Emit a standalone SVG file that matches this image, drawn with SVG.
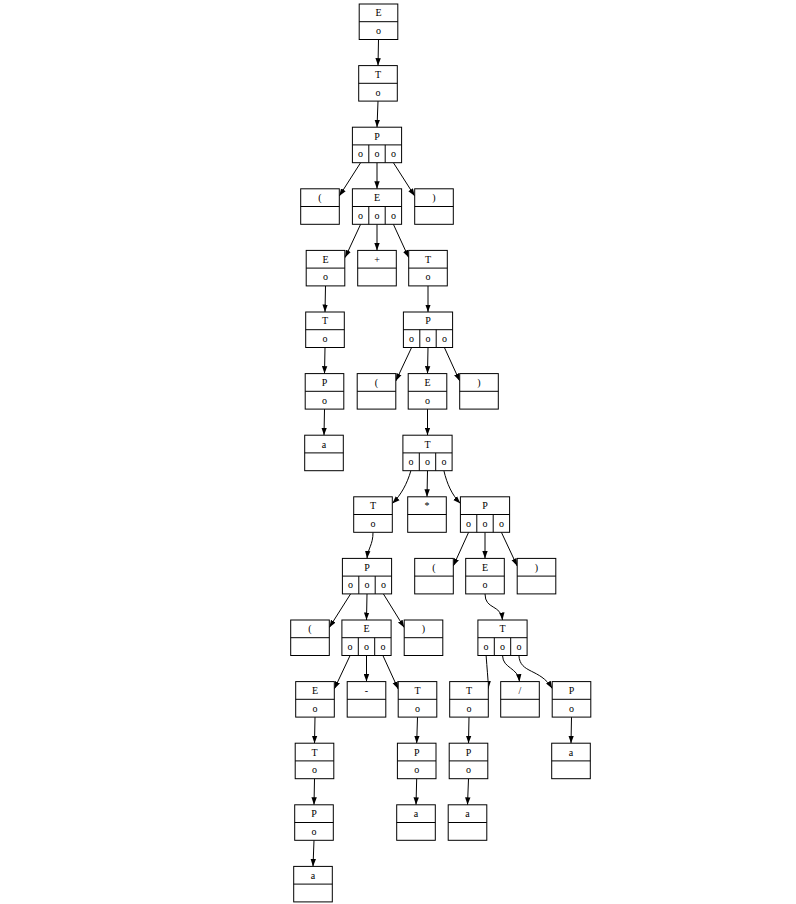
<svg xmlns="http://www.w3.org/2000/svg" width="796" height="904" viewBox="0 0 796 904">
<style>
.b{fill:#fff;stroke:#000;stroke-width:1}
.d{stroke:#000;stroke-width:1}
.t{font-family:"Liberation Serif","Times New Roman",serif;font-size:10px;text-anchor:middle;fill:#000}
.e{fill:none;stroke:#000;stroke-width:1;marker-end:url(#ah)}
</style>
<defs>
<marker id="ah" markerUnits="userSpaceOnUse" markerWidth="8" markerHeight="6" refX="7.5" refY="3" orient="auto"><path d="M0,0.3 L7.5,3 L0,5.7z" fill="#000"/></marker>
</defs>
<rect width="796" height="904" fill="#fff"/>
<g id="edges">
<path class="e" d="M378.5,39.5 L378,65.6"/>
<path class="e" d="M378,101.1 L377,127.2"/>
<path class="e" d="M360.6,162.7 L339.3,196"/>
<path class="e" d="M377,162.7 L377,188.8"/>
<path class="e" d="M393.4,162.7 L414.7,196"/>
<path class="e" d="M360.6,224.3 L345.1,257.6"/>
<path class="e" d="M377,224.3 L377,250.4"/>
<path class="e" d="M393.4,224.3 L408.7,257.6"/>
<path class="e" d="M325.5,285.9 L325,312"/>
<path class="e" d="M428,285.9 L428,312"/>
<path class="e" d="M325,347.5 L324.5,373.6"/>
<path class="e" d="M411.6,347.5 L395.8,381"/>
<path class="e" d="M428,347.5 L427.5,373.6"/>
<path class="e" d="M444.4,347.5 L459.7,381"/>
<path class="e" d="M324.5,409.1 L324,435.2"/>
<path class="e" d="M427.5,409.1 L427.5,435.2"/>
<path class="e" d="M410.9,470.7 C407,484 401,495 392.3,503.5"/>
<path class="e" d="M427.5,470.7 L427,496.8"/>
<path class="e" d="M443.9,470.7 C447,484 452,495 460.4,503.5"/>
<path class="e" d="M373,532.3 C373,545 368,548 367,558.4"/>
<path class="e" d="M468.6,532.3 L453.3,566"/>
<path class="e" d="M485,532.3 L485,558.4"/>
<path class="e" d="M501.4,532.3 L517.2,566"/>
<path class="e" d="M350.6,593.9 L329.3,627.5"/>
<path class="e" d="M367,593.9 L366.5,620"/>
<path class="e" d="M383.4,593.9 L404.2,627.5"/>
<path class="e" d="M485,593.9 C485,610 501,604 502.5,620"/>
<path class="e" d="M350.1,655.5 L334.3,689"/>
<path class="e" d="M366.5,655.5 L366.5,681.6"/>
<path class="e" d="M382.9,655.5 L398.2,689"/>
<path class="e" d="M486.1,655.5 C487,668 488,678 488.5,688.5"/>
<path class="e" d="M502.5,655.5 C503,669 518,667 519.5,681.6"/>
<path class="e" d="M518.9,655.5 C520,674 540,668 552.2,688.5"/>
<path class="e" d="M315,717.1 L314.5,743.2"/>
<path class="e" d="M417.5,717.1 L416.7,743.2"/>
<path class="e" d="M469,717.1 L468.5,743.2"/>
<path class="e" d="M571.5,717.1 L571,743.2"/>
<path class="e" d="M314.5,778.7 L314,804.8"/>
<path class="e" d="M416.7,778.7 L416,804.8"/>
<path class="e" d="M468.5,778.7 L467.5,804.8"/>
<path class="e" d="M314,840.3 L313,866.4"/>
</g>
<g id="n0"><rect class="b" x="359.2" y="4" width="38.6" height="35.5"/><line class="d" x1="359.2" y1="21.7" x2="397.8" y2="21.7"/><text class="t" x="378.5" y="16.3">E</text><text class="t" x="378.5" y="34">o</text></g>
<g id="n1"><rect class="b" x="358.7" y="65.6" width="38.6" height="35.5"/><line class="d" x1="358.7" y1="83.3" x2="397.3" y2="83.3"/><text class="t" x="378" y="77.9">T</text><text class="t" x="378" y="95.6">o</text></g>
<g id="n2"><rect class="b" x="352.4" y="127.2" width="49.2" height="35.5"/><line class="d" x1="352.4" y1="144.9" x2="401.6" y2="144.9"/><line class="d" x1="368.8" y1="144.9" x2="368.8" y2="162.7"/><line class="d" x1="385.2" y1="144.9" x2="385.2" y2="162.7"/><text class="t" x="377" y="139.5">P</text><text class="t" x="360.6" y="157.2">o</text><text class="t" x="377" y="157.2">o</text><text class="t" x="393.4" y="157.2">o</text></g>
<g id="n3"><rect class="b" x="300.7" y="188.8" width="38.6" height="35.5"/><line class="d" x1="300.7" y1="206.5" x2="339.3" y2="206.5"/><text class="t" x="320" y="201.1">(</text></g>
<g id="n4"><rect class="b" x="352.4" y="188.8" width="49.2" height="35.5"/><line class="d" x1="352.4" y1="206.5" x2="401.6" y2="206.5"/><line class="d" x1="368.8" y1="206.5" x2="368.8" y2="224.3"/><line class="d" x1="385.2" y1="206.5" x2="385.2" y2="224.3"/><text class="t" x="377" y="201.1">E</text><text class="t" x="360.6" y="218.8">o</text><text class="t" x="377" y="218.8">o</text><text class="t" x="393.4" y="218.8">o</text></g>
<g id="n5"><rect class="b" x="414.7" y="188.8" width="38.6" height="35.5"/><line class="d" x1="414.7" y1="206.5" x2="453.3" y2="206.5"/><text class="t" x="434" y="201.1">)</text></g>
<g id="n6"><rect class="b" x="306.2" y="250.4" width="38.6" height="35.5"/><line class="d" x1="306.2" y1="268.1" x2="344.8" y2="268.1"/><text class="t" x="325.5" y="262.7">E</text><text class="t" x="325.5" y="280.4">o</text></g>
<g id="n7"><rect class="b" x="357.7" y="250.4" width="38.6" height="35.5"/><line class="d" x1="357.7" y1="268.1" x2="396.3" y2="268.1"/><text class="t" x="377" y="262.7">+</text></g>
<g id="n8"><rect class="b" x="408.7" y="250.4" width="38.6" height="35.5"/><line class="d" x1="408.7" y1="268.1" x2="447.3" y2="268.1"/><text class="t" x="428" y="262.7">T</text><text class="t" x="428" y="280.4">o</text></g>
<g id="n9"><rect class="b" x="305.7" y="312" width="38.6" height="35.5"/><line class="d" x1="305.7" y1="329.7" x2="344.3" y2="329.7"/><text class="t" x="325" y="324.3">T</text><text class="t" x="325" y="342">o</text></g>
<g id="n10"><rect class="b" x="403.4" y="312" width="49.2" height="35.5"/><line class="d" x1="403.4" y1="329.7" x2="452.6" y2="329.7"/><line class="d" x1="419.8" y1="329.7" x2="419.8" y2="347.5"/><line class="d" x1="436.2" y1="329.7" x2="436.2" y2="347.5"/><text class="t" x="428" y="324.3">P</text><text class="t" x="411.6" y="342">o</text><text class="t" x="428" y="342">o</text><text class="t" x="444.4" y="342">o</text></g>
<g id="n11"><rect class="b" x="305.2" y="373.6" width="38.6" height="35.5"/><line class="d" x1="305.2" y1="391.3" x2="343.8" y2="391.3"/><text class="t" x="324.5" y="385.9">P</text><text class="t" x="324.5" y="403.6">o</text></g>
<g id="n12"><rect class="b" x="357.2" y="373.6" width="38.6" height="35.5"/><line class="d" x1="357.2" y1="391.3" x2="395.8" y2="391.3"/><text class="t" x="376.5" y="385.9">(</text></g>
<g id="n13"><rect class="b" x="408.2" y="373.6" width="38.6" height="35.5"/><line class="d" x1="408.2" y1="391.3" x2="446.8" y2="391.3"/><text class="t" x="427.5" y="385.9">E</text><text class="t" x="427.5" y="403.6">o</text></g>
<g id="n14"><rect class="b" x="459.7" y="373.6" width="38.6" height="35.5"/><line class="d" x1="459.7" y1="391.3" x2="498.3" y2="391.3"/><text class="t" x="479" y="385.9">)</text></g>
<g id="n15"><rect class="b" x="304.7" y="435.2" width="38.6" height="35.5"/><line class="d" x1="304.7" y1="452.9" x2="343.3" y2="452.9"/><text class="t" x="324" y="447.5">a</text></g>
<g id="n16"><rect class="b" x="402.9" y="435.2" width="49.2" height="35.5"/><line class="d" x1="402.9" y1="452.9" x2="452.1" y2="452.9"/><line class="d" x1="419.3" y1="452.9" x2="419.3" y2="470.7"/><line class="d" x1="435.7" y1="452.9" x2="435.7" y2="470.7"/><text class="t" x="427.5" y="447.5">T</text><text class="t" x="410.9" y="465.2">o</text><text class="t" x="427.5" y="465.2">o</text><text class="t" x="443.9" y="465.2">o</text></g>
<g id="n17"><rect class="b" x="353.7" y="496.8" width="38.6" height="35.5"/><line class="d" x1="353.7" y1="514.5" x2="392.3" y2="514.5"/><text class="t" x="373" y="509.1">T</text><text class="t" x="373" y="526.8">o</text></g>
<g id="n18"><rect class="b" x="407.7" y="496.8" width="38.6" height="35.5"/><line class="d" x1="407.7" y1="514.5" x2="446.3" y2="514.5"/><text class="t" x="427" y="509.1">*</text></g>
<g id="n19"><rect class="b" x="460.4" y="496.8" width="49.2" height="35.5"/><line class="d" x1="460.4" y1="514.5" x2="509.6" y2="514.5"/><line class="d" x1="476.8" y1="514.5" x2="476.8" y2="532.3"/><line class="d" x1="493.2" y1="514.5" x2="493.2" y2="532.3"/><text class="t" x="485" y="509.1">P</text><text class="t" x="468.6" y="526.8">o</text><text class="t" x="485" y="526.8">o</text><text class="t" x="501.4" y="526.8">o</text></g>
<g id="n20"><rect class="b" x="342.4" y="558.4" width="49.2" height="35.5"/><line class="d" x1="342.4" y1="576.1" x2="391.6" y2="576.1"/><line class="d" x1="358.8" y1="576.1" x2="358.8" y2="593.9"/><line class="d" x1="375.2" y1="576.1" x2="375.2" y2="593.9"/><text class="t" x="367" y="570.7">P</text><text class="t" x="350.6" y="588.4">o</text><text class="t" x="367" y="588.4">o</text><text class="t" x="383.4" y="588.4">o</text></g>
<g id="n21"><rect class="b" x="414.7" y="558.4" width="38.6" height="35.5"/><line class="d" x1="414.7" y1="576.1" x2="453.3" y2="576.1"/><text class="t" x="434" y="570.7">(</text></g>
<g id="n22"><rect class="b" x="465.7" y="558.4" width="38.6" height="35.5"/><line class="d" x1="465.7" y1="576.1" x2="504.3" y2="576.1"/><text class="t" x="485" y="570.7">E</text><text class="t" x="485" y="588.4">o</text></g>
<g id="n23"><rect class="b" x="517.2" y="558.4" width="38.6" height="35.5"/><line class="d" x1="517.2" y1="576.1" x2="555.8" y2="576.1"/><text class="t" x="536.5" y="570.7">)</text></g>
<g id="n24"><rect class="b" x="290.7" y="620" width="38.6" height="35.5"/><line class="d" x1="290.7" y1="637.7" x2="329.3" y2="637.7"/><text class="t" x="310" y="632.3">(</text></g>
<g id="n25"><rect class="b" x="341.9" y="620" width="49.2" height="35.5"/><line class="d" x1="341.9" y1="637.7" x2="391.1" y2="637.7"/><line class="d" x1="358.3" y1="637.7" x2="358.3" y2="655.5"/><line class="d" x1="374.7" y1="637.7" x2="374.7" y2="655.5"/><text class="t" x="366.5" y="632.3">E</text><text class="t" x="350.1" y="650">o</text><text class="t" x="366.5" y="650">o</text><text class="t" x="382.9" y="650">o</text></g>
<g id="n26"><rect class="b" x="404.2" y="620" width="38.6" height="35.5"/><line class="d" x1="404.2" y1="637.7" x2="442.8" y2="637.7"/><text class="t" x="423.5" y="632.3">)</text></g>
<g id="n27"><rect class="b" x="477.9" y="620" width="49.2" height="35.5"/><line class="d" x1="477.9" y1="637.7" x2="527.1" y2="637.7"/><line class="d" x1="494.3" y1="637.7" x2="494.3" y2="655.5"/><line class="d" x1="510.7" y1="637.7" x2="510.7" y2="655.5"/><text class="t" x="502.5" y="632.3">T</text><text class="t" x="486.1" y="650">o</text><text class="t" x="502.5" y="650">o</text><text class="t" x="518.9" y="650">o</text></g>
<g id="n28"><rect class="b" x="295.7" y="681.6" width="38.6" height="35.5"/><line class="d" x1="295.7" y1="699.3" x2="334.3" y2="699.3"/><text class="t" x="315" y="693.9">E</text><text class="t" x="315" y="711.6">o</text></g>
<g id="n29"><rect class="b" x="347.2" y="681.6" width="38.6" height="35.5"/><line class="d" x1="347.2" y1="699.3" x2="385.8" y2="699.3"/><text class="t" x="366.5" y="693.9">-</text></g>
<g id="n30"><rect class="b" x="398.2" y="681.6" width="38.6" height="35.5"/><line class="d" x1="398.2" y1="699.3" x2="436.8" y2="699.3"/><text class="t" x="417.5" y="693.9">T</text><text class="t" x="417.5" y="711.6">o</text></g>
<g id="n31"><rect class="b" x="449.7" y="681.6" width="38.6" height="35.5"/><line class="d" x1="449.7" y1="699.3" x2="488.3" y2="699.3"/><text class="t" x="469" y="693.9">T</text><text class="t" x="469" y="711.6">o</text></g>
<g id="n32"><rect class="b" x="500.7" y="681.6" width="38.6" height="35.5"/><line class="d" x1="500.7" y1="699.3" x2="539.3" y2="699.3"/><text class="t" x="520" y="693.9">/</text></g>
<g id="n33"><rect class="b" x="552.2" y="681.6" width="38.6" height="35.5"/><line class="d" x1="552.2" y1="699.3" x2="590.8" y2="699.3"/><text class="t" x="571.5" y="693.9">P</text><text class="t" x="571.5" y="711.6">o</text></g>
<g id="n34"><rect class="b" x="295.2" y="743.2" width="38.6" height="35.5"/><line class="d" x1="295.2" y1="760.9" x2="333.8" y2="760.9"/><text class="t" x="314.5" y="755.5">T</text><text class="t" x="314.5" y="773.2">o</text></g>
<g id="n35"><rect class="b" x="397.4" y="743.2" width="38.6" height="35.5"/><line class="d" x1="397.4" y1="760.9" x2="436" y2="760.9"/><text class="t" x="416.7" y="755.5">P</text><text class="t" x="416.7" y="773.2">o</text></g>
<g id="n36"><rect class="b" x="449.2" y="743.2" width="38.6" height="35.5"/><line class="d" x1="449.2" y1="760.9" x2="487.8" y2="760.9"/><text class="t" x="468.5" y="755.5">P</text><text class="t" x="468.5" y="773.2">o</text></g>
<g id="n37"><rect class="b" x="551.7" y="743.2" width="38.6" height="35.5"/><line class="d" x1="551.7" y1="760.9" x2="590.3" y2="760.9"/><text class="t" x="571" y="755.5">a</text></g>
<g id="n38"><rect class="b" x="294.7" y="804.8" width="38.6" height="35.5"/><line class="d" x1="294.7" y1="822.5" x2="333.3" y2="822.5"/><text class="t" x="314" y="817.1">P</text><text class="t" x="314" y="834.8">o</text></g>
<g id="n39"><rect class="b" x="396.7" y="804.8" width="38.6" height="35.5"/><line class="d" x1="396.7" y1="822.5" x2="435.3" y2="822.5"/><text class="t" x="416" y="817.1">a</text></g>
<g id="n40"><rect class="b" x="448.2" y="804.8" width="38.6" height="35.5"/><line class="d" x1="448.2" y1="822.5" x2="486.8" y2="822.5"/><text class="t" x="467.5" y="817.1">a</text></g>
<g id="n41"><rect class="b" x="293.7" y="866.4" width="38.6" height="35.5"/><line class="d" x1="293.7" y1="884.1" x2="332.3" y2="884.1"/><text class="t" x="313" y="878.7">a</text></g>
</svg>
